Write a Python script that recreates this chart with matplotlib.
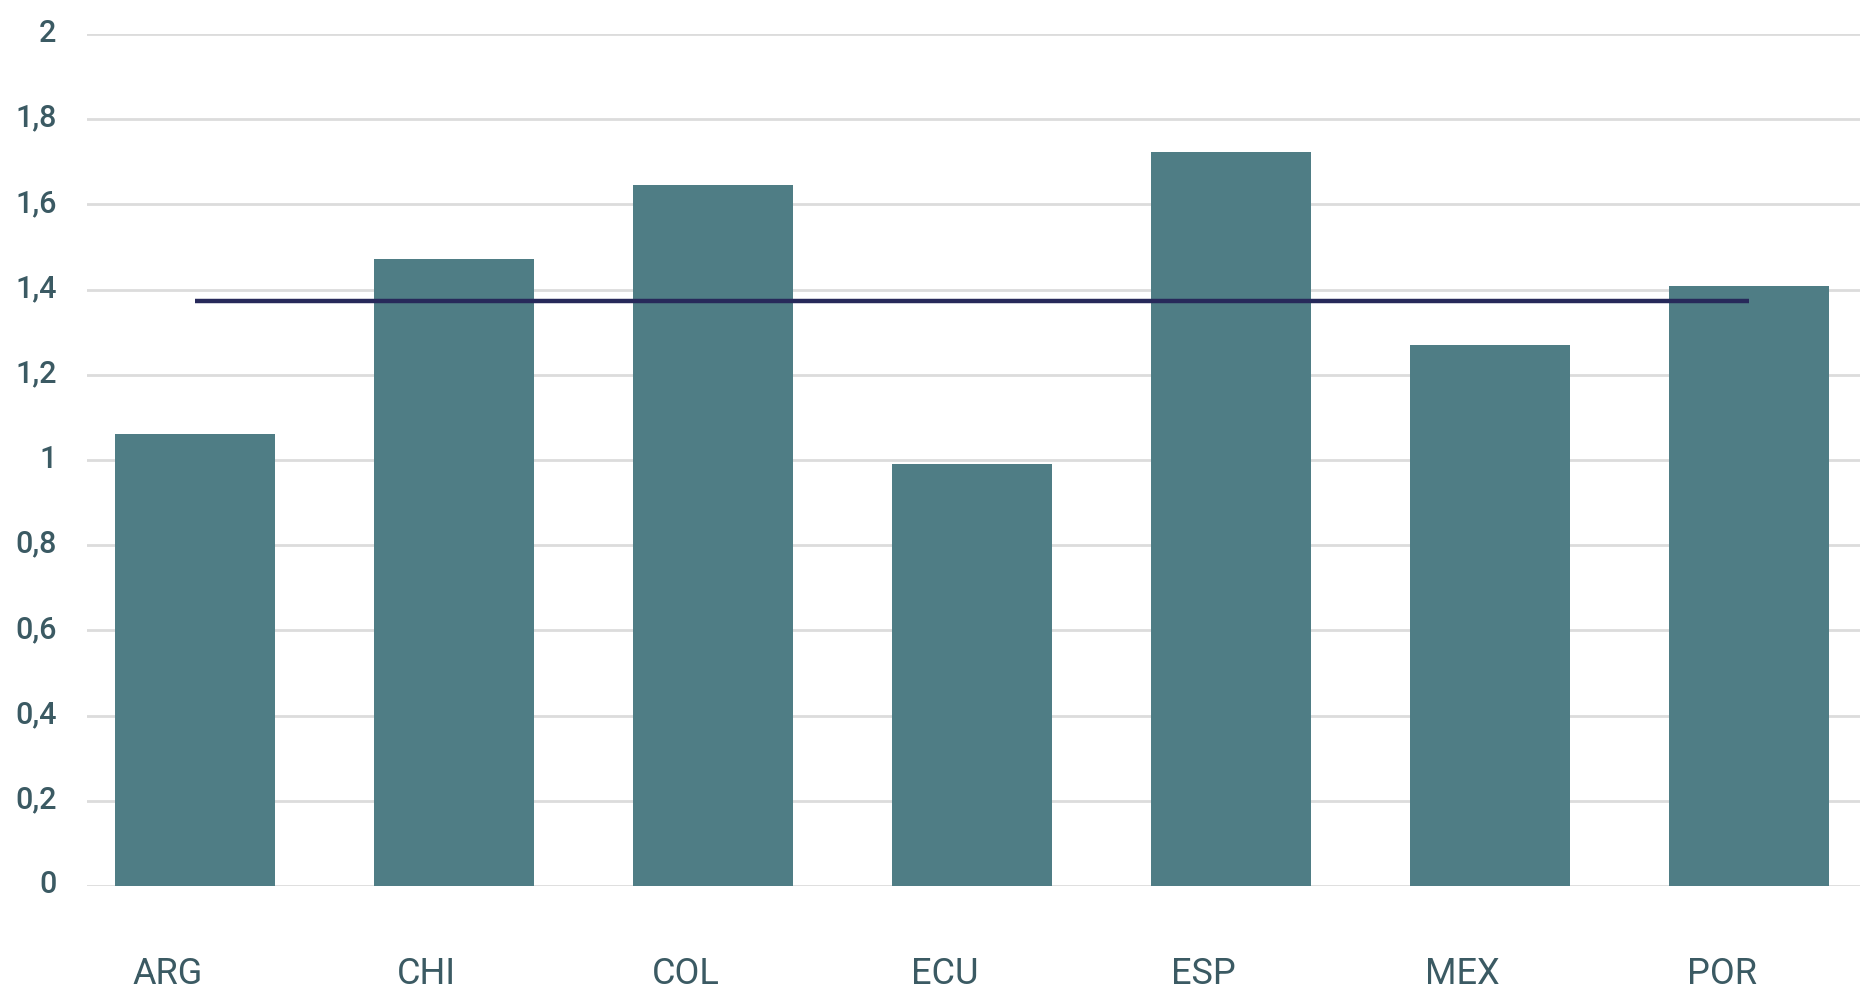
import numpy as np
import matplotlib
matplotlib.use("Agg")
import matplotlib.pyplot as plt
from matplotlib.transforms import ScaledTranslation

# data
countries = ["ARG", "CHI", "COL", "ECU", "ESP", "MEX", "POR"]
values = [1.061, 1.472, 1.645, 0.99, 1.723, 1.27, 1.408]
average = 1.373
yticks = [0, 0.2, 0.4, 0.6, 0.8, 1.0, 1.2, 1.4, 1.6, 1.8, 2.0]
ytick_labels = ["0", "0,2", "0,4", "0,6", "0,8", "1", "1,2", "1,4", "1,6", "1,8", "2"]

bar_color = "#4f7d85"
line_color = "#27295a"
text_color = "#3b5a63"

plt.rcParams["font.family"] = ["Roboto", "DejaVu Sans"]

fig = plt.figure(figsize=(18.6, 9.95), dpi=100)
ax = fig.add_axes([87 / 1860, 108 / 995, 1 - 87 / 1860, (887 - 35) / 995])

x = np.arange(len(countries))
ax.bar(x, values, width=0.618, color=bar_color, zorder=2)
ax.plot([x[0], x[-1]], [average, average], color=line_color, lw=3.2, zorder=3,
        solid_capstyle="butt")

ax.set_xlim(-0.417, 6.43)
ax.set_ylim(0, 2)
ax.set_yticks(yticks)
ax.set_yticklabels(ytick_labels)
ax.set_xticks(x)
ax.set_xticklabels(countries)

ax.grid(axis="y", color="#dcdcdc", lw=2, zorder=1)
for s in ax.spines.values():
    s.set_visible(False)
ax.tick_params(axis="both", length=0)
ax.tick_params(axis="y", labelsize=22, labelcolor=text_color, pad=22)
ax.tick_params(axis="x", labelsize=26, labelcolor=text_color, pad=50)

for lab in ax.get_yticklabels():
    lab.set_fontweight("medium")
    lab.set_transform(lab.get_transform() + ScaledTranslation(0, 5 / 100, fig.dpi_scale_trans))
for lab in ax.get_xticklabels():
    lab.set_transform(lab.get_transform() + ScaledTranslation(-27 / 100, 0, fig.dpi_scale_trans))

fig.savefig("out.png", dpi=100, facecolor="white")
